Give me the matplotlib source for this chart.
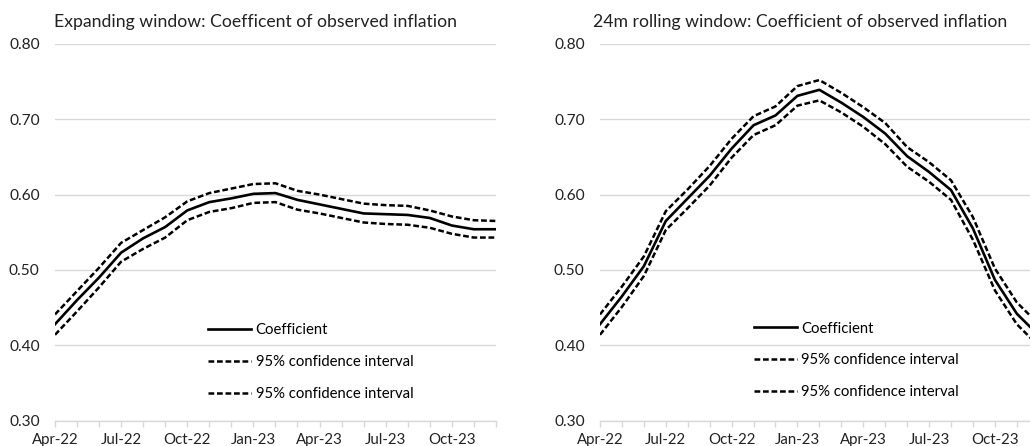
import matplotlib
matplotlib.use("Agg")
import matplotlib.pyplot as plt

plt.rcParams['font.family'] = ['Lato', 'DejaVu Sans']

# monthly observations, Apr-22 to Dec-23
months = ["Apr-22", "May-22", "Jun-22", "Jul-22", "Aug-22", "Sep-22",
          "Oct-22", "Nov-22", "Dec-22", "Jan-23", "Feb-23", "Mar-23",
          "Apr-23", "May-23", "Jun-23", "Jul-23", "Aug-23", "Sep-23",
          "Oct-23", "Nov-23", "Dec-23"]

# expanding window estimates
exp_coef = [0.428, 0.460, 0.490, 0.523, 0.542, 0.557, 0.579, 0.590, 0.595,
            0.601, 0.602, 0.593, 0.587, 0.581, 0.575, 0.574, 0.573, 0.569,
            0.559, 0.554, 0.554]
exp_upper = [0.441, 0.472, 0.503, 0.536, 0.553, 0.570, 0.591, 0.602, 0.608,
             0.614, 0.615, 0.605, 0.600, 0.594, 0.588, 0.586, 0.585, 0.579,
             0.571, 0.566, 0.565]
exp_lower = [0.414, 0.445, 0.477, 0.511, 0.528, 0.543, 0.566, 0.577, 0.582,
             0.589, 0.590, 0.580, 0.575, 0.569, 0.563, 0.561, 0.560, 0.556,
             0.548, 0.543, 0.543]

# 24m rolling window estimates
roll_coef = [0.428, 0.465, 0.505, 0.565, 0.595, 0.625, 0.661, 0.692, 0.705,
             0.731, 0.739, 0.722, 0.703, 0.681, 0.651, 0.630, 0.606, 0.555,
             0.487, 0.442, 0.413]
roll_upper = [0.441, 0.478, 0.518, 0.578, 0.607, 0.638, 0.674, 0.704, 0.717,
              0.744, 0.752, 0.735, 0.716, 0.695, 0.663, 0.643, 0.619, 0.570,
              0.502, 0.457, 0.428]
roll_lower = [0.414, 0.451, 0.492, 0.553, 0.582, 0.612, 0.649, 0.679, 0.692,
              0.718, 0.725, 0.709, 0.690, 0.667, 0.637, 0.617, 0.593, 0.540,
              0.473, 0.428, 0.399]

titles = ["Expanding window: Coefficent of observed inflation",
          "24m rolling window: Coefficient of observed inflation"]

fig = plt.figure(figsize=(10.30, 4.46), dpi=100)
ax1 = fig.add_axes([0.0534, 0.0567, 0.428, 0.845])
ax2 = fig.add_axes([0.5825, 0.0567, 0.426, 0.845])

x = list(range(len(months)))
grid_col = "#d9d9d9"
dashes = (0, (2.3, 1.1))

panels = [(ax1, exp_coef, exp_upper, exp_lower, (0.347, 0.052)),
          (ax2, roll_coef, roll_upper, roll_lower, (0.35, 0.057))]

for ax, coef, upper, lower, leg_pos in panels:
    ax.plot(x, coef, color="black", lw=1.9, label="Coefficient")
    ax.plot(x, upper, color="black", lw=1.8, ls=dashes,
            label="95% confidence interval")
    ax.plot(x, lower, color="black", lw=1.8, ls=dashes,
            label="95% confidence interval")

    ax.set_xlim(0, len(months) - 1)
    ax.set_ylim(0.30, 0.80)
    ax.set_yticks([0.30, 0.40, 0.50, 0.60, 0.70, 0.80])
    ax.set_yticklabels(["0.30", "0.40", "0.50", "0.60", "0.70", "0.80"])
    ax.set_xticks(x, minor=True)
    ax.set_xticks(x[::3])
    ax.set_xticklabels(months[::3])
    ax.grid(axis="y", color=grid_col, lw=1.0)
    ax.set_axisbelow(True)
    for side in ["top", "right", "left"]:
        ax.spines[side].set_visible(False)
    ax.spines["bottom"].set_color(grid_col)
    ax.spines["bottom"].set_linewidth(1.0)
    ax.tick_params(axis="y", length=0, pad=11, labelsize=11.2,
                   labelcolor="#222222")
    ax.tick_params(axis="x", which="both", length=4, color=grid_col,
                   width=1.0, pad=5, labelsize=10.8, labelcolor="#222222")

    ax.legend(loc="lower left", bbox_to_anchor=leg_pos, frameon=False,
              fontsize=10.7, handlelength=2.9, handletextpad=0.3,
              labelspacing=1.2, borderpad=0, borderaxespad=0)

fig.text(0.0524, 0.95, titles[0], fontsize=12.7, ha="left", va="center",
         color="#222222")
fig.text(0.5757, 0.95, titles[1], fontsize=12.7, ha="left", va="center",
         color="#222222")

fig.savefig("out.png", dpi=100)
